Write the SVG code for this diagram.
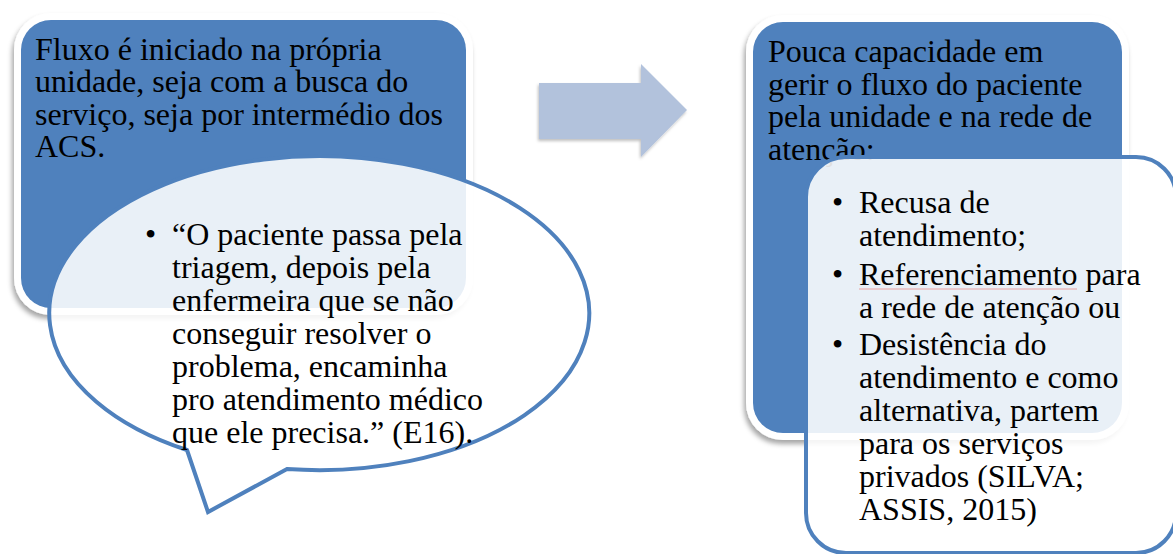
<svg xmlns="http://www.w3.org/2000/svg" width="1173" height="554" viewBox="0 0 1173 554">
<defs>
<filter id="sh" x="-10%" y="-10%" width="120%" height="125%">
<feDropShadow dx="-2" dy="4" stdDeviation="2.5" flood-color="#000" flood-opacity="0.35"/>
</filter>
<filter id="ash" x="-10%" y="-10%" width="120%" height="130%">
<feDropShadow dx="-1" dy="2" stdDeviation="1.5" flood-color="#000" flood-opacity="0.25"/>
</filter>
</defs>
<style>
.frame{fill:#ffffff;filter:url(#sh)}
.box{fill:#4F81BD}
.callout{fill:#ffffff;fill-opacity:0.88;stroke:#4F81BD;stroke-width:4;stroke-linejoin:miter}
text{font-family:"Liberation Serif","Times New Roman",serif;font-size:32px;fill:#000000}
.arrow{fill:#B2C2DC;filter:url(#ash)}
</style>
<rect width="1173" height="554" fill="#ffffff"/>

<g id="connectors">
<polygon class="arrow" points="539,83 641,83 641,64 687,110 641,157 641,139 539,139"/>
</g>

<g id="node-left">
<rect class="frame" x="14" y="13" width="459" height="302" rx="37"/>
<rect class="box" x="21" y="20" width="445" height="288" rx="30"/>
<text x="35" y="59.5">Fluxo é iniciado na própria</text>
<text x="35" y="92">unidade, seja com a busca do</text>
<text x="35" y="124.7">serviço, seja por intermédio dos</text>
<text x="35" y="157.4">ACS.</text>
</g>

<g id="callout-left">
<path class="callout" d="M 187 450 L 208 512 L 287 469 A 270 157 0 1 0 187 450 Z"/>
<text x="145" y="245">•</text>
<text x="172" y="245">“O paciente passa pela</text>
<text x="172" y="278">triagem, depois pela</text>
<text x="172" y="311">enfermeira que se não</text>
<text x="172" y="344">conseguir resolver o</text>
<text x="172" y="377">problema, encaminha</text>
<text x="172" y="410">pro atendimento médico</text>
<text x="172" y="443">que ele precisa.” (E16).</text>
</g>

<g id="node-right">
<rect class="frame" x="746" y="15" width="383" height="425" rx="37"/>
<rect class="box" x="753" y="22" width="369" height="411" rx="30"/>
<text x="768" y="62">Pouca capacidade em</text>
<text x="768" y="94.7">gerir o fluxo do paciente</text>
<text x="768" y="127.4">pela unidade e na rede de</text>
<text x="768" y="160">atenção:</text>
</g>

<g id="callout-right">
<rect class="callout" x="806" y="157" width="370" height="396" rx="40"/>
<text x="832" y="213">•</text>
<text x="859" y="213">Recusa de</text>
<text x="859" y="246">atendimento;</text>
<text x="832" y="285">•</text>
<text x="859" y="285">Referenciamento para</text>
<line x1="859" y1="289" x2="1077" y2="289" stroke="#E8A0A0" stroke-width="1"/>
<text x="859" y="318">a rede de atenção ou</text>
<text x="832" y="355">•</text>
<text x="859" y="355">Desistência do</text>
<text x="859" y="388">atendimento e como</text>
<text x="859" y="421">alternativa, partem</text>
<text x="859" y="454">para os serviços</text>
<text x="859" y="487">privados (SILVA;</text>
<text x="859" y="520">ASSIS, 2015)</text>
</g>
</svg>
